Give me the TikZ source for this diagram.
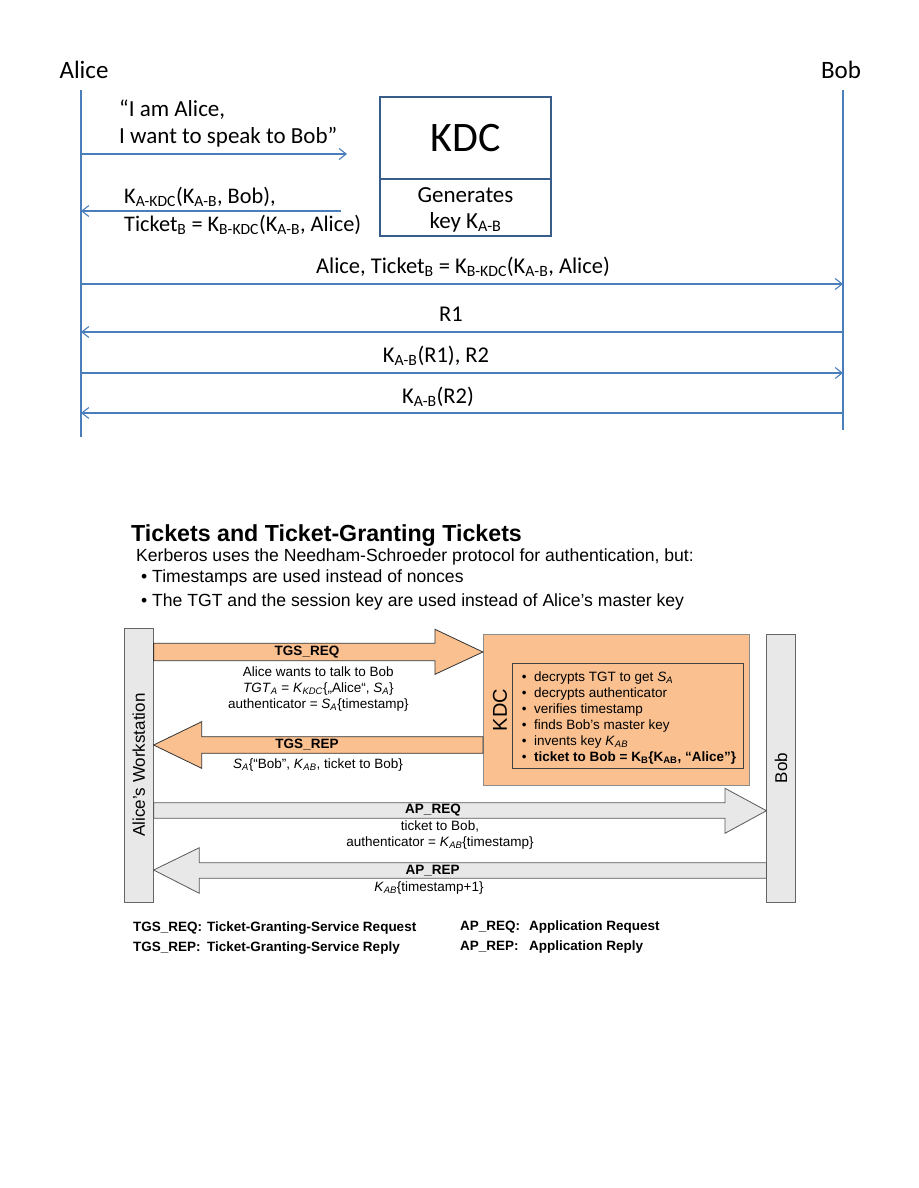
\documentclass[tikz,border=0pt]{standalone}
\usepackage{fontspec}
\setmainfont{Liberation Sans}
\newfontfamily\calib{Carlito}
\usetikzlibrary{arrows.meta,positioning}

\definecolor{msgblue}{RGB}{74,126,187}
\definecolor{kdcblue}{RGB}{56,93,138}
\definecolor{kdcorange}{RGB}{250,192,144}
\definecolor{barfill}{RGB}{232,232,232}

\newcommand\sbs[1]{\textsubscript{#1}}
\newcommand\iv[2]{\textit{#1}\textsubscript{\textit{#2}}}
\newcommand\itm{\makebox[12.3pt][l]{•}}

\begin{document}
\begin{tikzpicture}[x=1pt, y=-1pt,
    life/.style={draw=msgblue, line width=1.1pt},
    msg/.style={draw=msgblue, line width=1.1pt, -{Straight Barb[length=7pt,width=11pt]}},
    who/.style={font=\calib\fontsize{25}{29}\selectfont, inner sep=0pt, anchor=base},
    msgtxt/.style={font=\calib\fontsize{23}{27}\selectfont, inner sep=0pt, align=left, anchor=base west},
    rowtxt/.style={font=\calib\fontsize{22.5}{27}\selectfont, inner sep=0pt, anchor=base},
    kdcb/.style={draw=kdcblue, line width=2.5pt, outer sep=0pt, minimum width=171pt, align=center},
    bar/.style={draw=black!60, fill=barfill, line width=0.8pt},
    tgsarrow/.style={draw=black!80, fill=kdcorange, line width=0.8pt},
    aparrow/.style={draw=black!65, fill=barfill, line width=0.8pt},
    lbl/.style={font=\fontsize{13.5}{16}\selectfont, inner sep=0pt, anchor=base, align=center},
    blbl/.style={font=\bfseries\fontsize{13.5}{16}\selectfont, inner sep=0pt, anchor=base},
    intro/.style={font=\fontsize{17.6}{20}\selectfont, inner sep=0pt, anchor=base west},
    legend/.style={font=\bfseries\fontsize{13.5}{16}\selectfont, inner sep=0pt, anchor=base west}]
  \fill[white] (0,0) rectangle (918,1188);
  \useasboundingbox (0,0) rectangle (918,1188);

  \node[who] (alice) at (84,79) {Alice};
  \node[who] (bob) at (841,79) {Bob};
  \coordinate (A) at (81,90);
  \coordinate (B) at (843,90);
  \draw[life] (A) -- (81,437);
  \draw[life] (B) -- (843,430);

  \node[kdcb, minimum height=82pt, font=\calib\fontsize{42}{46}\selectfont] (kdc1) at (465.5,138) {KDC};
  \node[kdcb, minimum height=57pt, below=0pt of kdc1] (gen) {};
  \node[font=\calib\fontsize{23}{26}\selectfont, inner sep=0pt, align=center, anchor=base] (gentxt) at (gen.center |- 0,228) {Generates\\key K\sbs{A-B}};

  \coordinate (m1) at (347,154);
  \coordinate (m2) at (341,211);
  \draw[msg] (A |- m1) -- (m1);
  \node[msgtxt] (t1) at (119,143.5) {“I am Alice,\\I want to speak to Bob”};
  \draw[msg] (m2) -- (A |- m2);
  \node[msgtxt, font=\calib\fontsize{22.3}{28}\selectfont] (t2) at (124,231) {K\sbs{A-KDC}(K\sbs{A-B}, Bob),\\Ticket\sbs{B} = K\sbs{B-KDC}(K\sbs{A-B}, Alice)};

  \draw[msg] (A |- 0,284) -- (B |- 0,284);
  \node[rowtxt] (t3) at (463,273) {Alice, Ticket\sbs{B} = K\sbs{B-KDC}(K\sbs{A-B}, Alice)};
  \draw[msg] (B |- 0,332) -- (A |- 0,332);
  \node[rowtxt] (t4) at (451,321.5) {R1};
  \draw[msg] (A |- 0,373) -- (B |- 0,373);
  \node[rowtxt] (t5) at (436,362) {K\sbs{A-B}(R1), R2};
  \draw[msg] (B |- 0,413) -- (A |- 0,413);
  \node[rowtxt] (t6) at (438,403) {K\sbs{A-B}(R2)};

  \node[anchor=base west, inner sep=0pt, font=\bfseries\fontsize{23.2}{26}\selectfont] (title) at (131,541.7) {Tickets and Ticket-Granting Tickets};
  \node[intro] (intro) at (136,561) {Kerberos uses the Needham-Schroeder protocol for authentication, but:};
  \node[intro] (pt1) at (141,582.5) {\makebox[11pt][l]{•}Timestamps are used instead of nonces};
  \node[intro] (pt2) at (141,606) {\makebox[11pt][l]{•}The TGT and the session key are used instead of Alice's master key};

  \node[bar, minimum width=29pt, minimum height=274pt, label={[rotate=90, font=\fontsize{17}{20}\selectfont]center:Alice's Workstation}] (ws) at (138.7,765) {};
  \node[bar, minimum width=28.3pt, minimum height=268pt, label={[rotate=90, font=\fontsize{17}{20}\selectfont]center:Bob}] (bobbar) at (781,768) {};
  \node[draw=black!45, fill=kdcorange, line width=0.8pt, minimum width=266pt, minimum height=151pt] (kdc) at (616.3,709.5) {};
  \node[rotate=90, font=\fontsize{20}{24}\selectfont] (kdclbl) at (500,710) {KDC};
  \node[draw=black!75, line width=0.8pt, minimum width=230.4pt, minimum height=105pt, anchor=north west] (jobs) at (512.3,663.3) {};
  \node[anchor=base west, inner sep=0pt, align=left, font=\fontsize{13.5}{16}\selectfont] (jobtxt) at (521.7,761) {\itm decrypts TGT to get \iv{S}{A}\\\itm decrypts authenticator\\\itm verifies timestamp\\\itm finds Bob's master key\\\itm invents key \iv{K}{AB}\\\itm\textbf{ticket to Bob = K\textsubscript{B}\{K\textsubscript{AB}, “Alice”\}}};

  \draw[tgsarrow] (ws.east |- 0,643.3) -- (435,643.3) -- (435,629.3) -- (kdc.west |- 0,652) -- (435,674.3) -- (435,660.7) -- (ws.east |- 0,660.7) -- cycle;
  \node[blbl] (req1) at (307,655) {TGS\_REQ};
  \node[lbl] (req1txt) at (318.3,708.3) {Alice wants to talk to Bob\\\iv{TGT}{A} = \iv{K}{KDC}\{„Alice“, \iv{S}{A}\}\\authenticator = \iv{S}{A}\{timestamp\}};

  \draw[tgsarrow] (kdc.west |- 0,736.7) -- (201.7,736.7) -- (201.7,721.7) -- (ws.east |- 0,745) -- (201.7,768.3) -- (201.7,753.3) -- (kdc.west |- 0,753.3) -- cycle;
  \node[blbl] (rep1) at (307,748.3) {TGS\_REP};
  \node[lbl] (rep1txt) at (318,768.3) {\iv{S}{A}\{“Bob”, \iv{K}{AB}, ticket to Bob\}};

  \draw[aparrow] (ws.east |- 0,802.7) -- (725,802.7) -- (725,788.3) -- (bobbar.west |- 0,810.7) -- (725,833.3) -- (725,818.3) -- (ws.east |- 0,818.3) -- cycle;
  \node[blbl] (req2) at (433,813.3) {AP\_REQ};
  \node[lbl] (req2txt) at (440,846) {ticket to Bob,\\authenticator = \iv{K}{AB}\{timestamp\}};

  \draw[aparrow] (bobbar.west |- 0,862.7) -- (199.3,862.7) -- (199.3,847.7) -- (ws.east |- 0,870) -- (199.3,893.3) -- (199.3,878.3) -- (bobbar.west |- 0,878.3) -- cycle;
  \node[blbl] (rep2) at (432.6,874.5) {AP\_REP};
  \node[lbl] (rep2txt) at (429,891.7) {\iv{K}{AB}\{timestamp+1\}};

  \node[legend] (lg1) at (133,931.7) {\makebox[74pt][l]{TGS\_REQ:}Ticket-Granting-Service Request};
  \node[legend] (lg2) at (133,951.7) {\makebox[74pt][l]{TGS\_REP:}Ticket-Granting-Service Reply};
  \node[legend] (lg3) at (460,930) {\makebox[69pt][l]{AP\_REQ:}Application Request};
  \node[legend] (lg4) at (460,950) {\makebox[69pt][l]{AP\_REP:}Application Reply};
\end{tikzpicture}
\end{document}
